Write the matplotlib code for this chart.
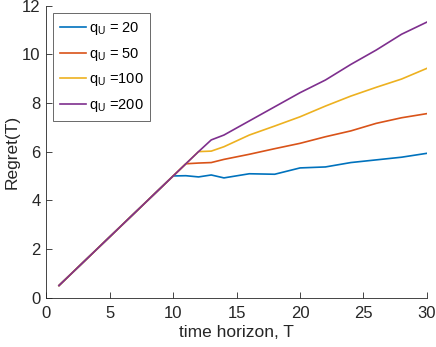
import matplotlib
matplotlib.use('Agg')
import matplotlib.pyplot as plt

# time horizon values
T = [1, 2, 3, 4, 5, 6, 7, 8, 9, 10, 11, 12, 13, 14, 16, 18, 20, 22, 24, 26, 28, 30]

# regret values
ramp = [0.5, 1.0, 1.5, 2.0, 2.5, 3.0, 3.5, 4.0, 4.5, 5.0]
regret_20 = ramp + [5.01, 4.96, 5.04, 4.92, 5.09, 5.07, 5.33, 5.37, 5.55, 5.66, 5.77, 5.93]
regret_50 = ramp + [5.50, 5.53, 5.55, 5.68, 5.89, 6.12, 6.34, 6.61, 6.85, 7.16, 7.39, 7.56]
regret_100 = ramp + [5.50, 6.00, 6.02, 6.20, 6.68, 7.05, 7.43, 7.87, 8.28, 8.64, 8.98, 9.42]
regret_200 = ramp + [5.50, 6.00, 6.48, 6.68, 7.26, 7.84, 8.42, 8.94, 9.58, 10.17, 10.82, 11.32]

labels = ['q$_\\mathregular{U}$ = 20', 'q$_\\mathregular{U}$ = 50',
          'q$_\\mathregular{U}$ =100', 'q$_\\mathregular{U}$ =200']
colors = ['#0072BD', '#D95319', '#EDB120', '#7E2F8E']

plt.rcParams['font.family'] = ['Liberation Sans', 'DejaVu Sans']

fig = plt.figure(figsize=(4.36, 3.47), dpi=100)
ax = fig.add_axes([0.1062, 0.1421, 0.873, 0.842])

for y, lab, c in zip([regret_20, regret_50, regret_100, regret_200], labels, colors):
    ax.plot(T, y, color=c, linewidth=1.2, label=lab)

ax.set_xlim(0, 30)
ax.set_ylim(0, 12)
ax.set_xticks([0, 5, 10, 15, 20, 25, 30])
ax.set_yticks([0, 2, 4, 6, 8, 10, 12])
ax.spines['top'].set_visible(False)
ax.spines['right'].set_visible(False)
for s in ['left', 'bottom']:
    ax.spines[s].set_color('#262626')
    ax.spines[s].set_linewidth(0.6)
ax.tick_params(direction='in', length=4, width=0.6, colors='#262626',
               labelsize=12, labelcolor='#262626')
ax.tick_params(axis='x', pad=6)
ax.tick_params(axis='y', pad=4)
ax.set_xlabel('time horizon, T', fontsize=12.5, color='#262626', labelpad=3)
ax.set_ylabel('Regret(T)', fontsize=12.5, color='#262626', labelpad=2)

leg = ax.legend(loc='upper left', bbox_to_anchor=(0.0183, 0.9733), fontsize=10.5,
                frameon=True, fancybox=False, edgecolor='#262626',
                handlelength=1.8, handletextpad=0.22, labelspacing=0.6,
                borderpad=0.45, borderaxespad=0)
leg.get_frame().set_linewidth(0.6)

fig.savefig('out.png', dpi=100)
